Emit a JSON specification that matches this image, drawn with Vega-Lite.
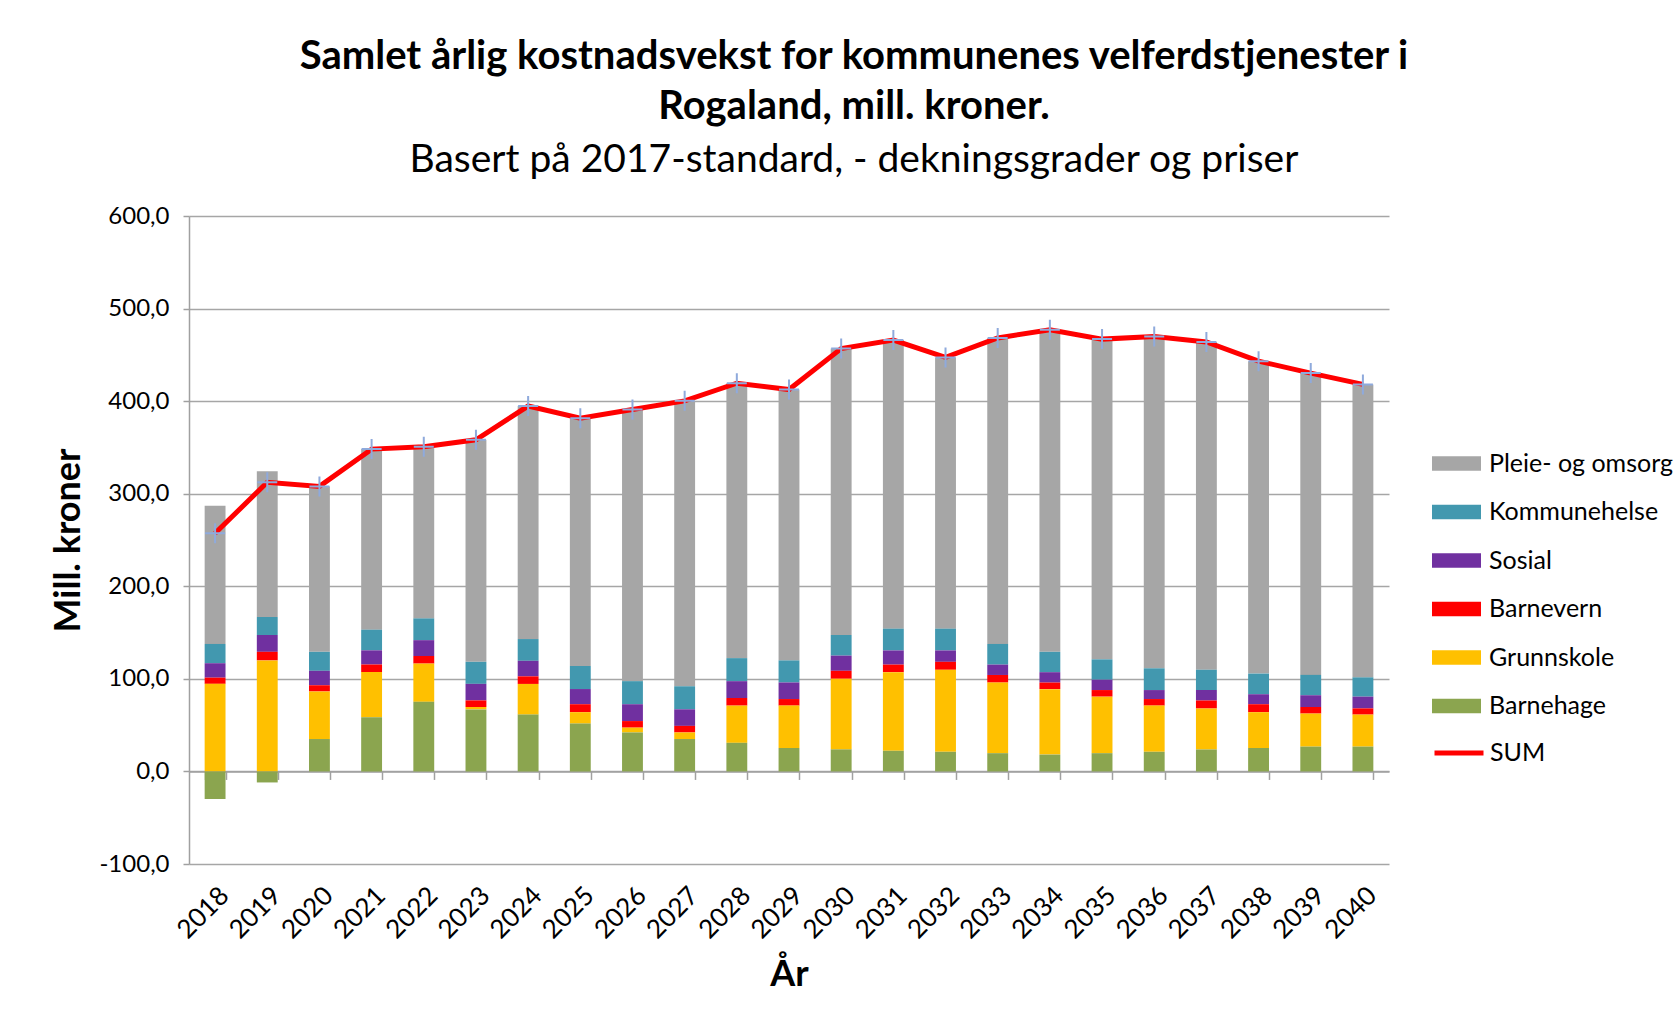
{
  "$schema": "https://vega.github.io/schema/vega-lite/v6.json",
  "width": 1200,
  "height": 648,
  "autosize": {"type": "none"},
  "padding": {"left": 189, "top": 216, "right": 289, "bottom": 159},
  "background": "white",
  "config": {
    "locale": {"number": {"decimal": ",", "thousands": " ", "grouping": [3], "currency": ["", " kr"], "minus": "-"}},
    "font": "Lato",
    "view": {"stroke": null},
    "legend": {"labelFont": "Lato", "labelFontSize": 25, "labelColor": "#000000", "labelOffset": 8, "rowPadding": 10.5, "padding": 0, "labelLimit": 400}
  },
  "title": {
    "text": ["Samlet årlig kostnadsvekst for kommunenes velferdstjenester i", "Rogaland, mill. kroner."],
    "subtitle": "Basert på 2017-standard, - dekningsgrader og priser",
    "anchor": "middle",
    "frame": "group",
    "dx": 65,
    "font": "Lato",
    "fontSize": 40,
    "fontWeight": "bold",
    "lineHeight": 50,
    "color": "#000000",
    "subtitleFont": "Lato",
    "subtitleFontSize": 39,
    "subtitleFontWeight": "normal",
    "subtitleColor": "#000000",
    "subtitlePadding": 14,
    "offset": 24
  },
  "datasets": {
    "rekkefolge": [
      {"Kategori": "Barnehage", "nr": 1},
      {"Kategori": "Grunnskole", "nr": 2},
      {"Kategori": "Barnevern", "nr": 3},
      {"Kategori": "Sosial", "nr": 4},
      {"Kategori": "Kommunehelse", "nr": 5},
      {"Kategori": "Pleie- og omsorg", "nr": 6}
    ],
    "tabell": [
      {"Aar": "2018", "Barnehage": -29.8, "Grunnskole": 94.6, "Barnevern": 6.7, "Sosial": 15.6, "Kommunehelse": 20.8, "Pleie- og omsorg": 149.3, "SUM": 257.2},
      {"Aar": "2019", "Barnehage": -11.9, "Grunnskole": 119.9, "Barnevern": 9.3, "Sosial": 18.2, "Kommunehelse": 19.4, "Pleie- og omsorg": 157.5, "SUM": 312.4},
      {"Aar": "2020", "Barnehage": 35.0, "Grunnskole": 51.4, "Barnevern": 6.7, "Sosial": 15.6, "Kommunehelse": 20.5, "Pleie- og omsorg": 178.7, "SUM": 307.9},
      {"Aar": "2021", "Barnehage": 58.5, "Grunnskole": 48.8, "Barnevern": 8.2, "Sosial": 15.3, "Kommunehelse": 22.3, "Pleie- og omsorg": 195.1, "SUM": 348.2},
      {"Aar": "2022", "Barnehage": 75.2, "Grunnskole": 41.3, "Barnevern": 8.2, "Sosial": 17.1, "Kommunehelse": 23.5, "Pleie- og omsorg": 185.4, "SUM": 350.7},
      {"Aar": "2023", "Barnehage": 67.0, "Grunnskole": 2.6, "Barnevern": 7.1, "Sosial": 17.9, "Kommunehelse": 23.8, "Pleie- og omsorg": 239.8, "SUM": 358.2},
      {"Aar": "2024", "Barnehage": 61.4, "Grunnskole": 33.1, "Barnevern": 8.2, "Sosial": 16.8, "Kommunehelse": 23.5, "Pleie- og omsorg": 251.7, "SUM": 394.7},
      {"Aar": "2025", "Barnehage": 51.7, "Grunnskole": 12.3, "Barnevern": 8.6, "Sosial": 16.4, "Kommunehelse": 24.9, "Pleie- og omsorg": 267.6, "SUM": 381.5},
      {"Aar": "2026", "Barnehage": 42.1, "Grunnskole": 5.2, "Barnevern": 7.1, "Sosial": 18.2, "Kommunehelse": 24.9, "Pleie- og omsorg": 293.4, "SUM": 390.9},
      {"Aar": "2027", "Barnehage": 35.0, "Grunnskole": 7.1, "Barnevern": 7.1, "Sosial": 17.9, "Kommunehelse": 24.9, "Pleie- og omsorg": 308.3, "SUM": 400.3},
      {"Aar": "2028", "Barnehage": 30.9, "Grunnskole": 40.2, "Barnevern": 8.2, "Sosial": 18.2, "Kommunehelse": 24.9, "Pleie- og omsorg": 297.0, "SUM": 419.4},
      {"Aar": "2029", "Barnehage": 25.3, "Grunnskole": 45.8, "Barnevern": 7.1, "Sosial": 17.9, "Kommunehelse": 23.8, "Pleie- og omsorg": 292.6, "SUM": 412.5},
      {"Aar": "2030", "Barnehage": 23.8, "Grunnskole": 76.3, "Barnevern": 8.6, "Sosial": 16.4, "Kommunehelse": 22.3, "Pleie- og omsorg": 309.4, "SUM": 456.8},
      {"Aar": "2031", "Barnehage": 22.3, "Grunnskole": 84.9, "Barnevern": 8.2, "Sosial": 15.3, "Kommunehelse": 23.5, "Pleie- og omsorg": 311.8, "SUM": 466.0},
      {"Aar": "2032", "Barnehage": 21.2, "Grunnskole": 88.6, "Barnevern": 8.6, "Sosial": 12.3, "Kommunehelse": 23.5, "Pleie- og omsorg": 293.0, "SUM": 447.2},
      {"Aar": "2033", "Barnehage": 19.7, "Grunnskole": 76.3, "Barnevern": 8.2, "Sosial": 11.2, "Kommunehelse": 22.3, "Pleie- og omsorg": 330.6, "SUM": 468.3},
      {"Aar": "2034", "Barnehage": 18.2, "Grunnskole": 70.7, "Barnevern": 7.1, "Sosial": 11.2, "Kommunehelse": 22.0, "Pleie- og omsorg": 348.0, "SUM": 477.2},
      {"Aar": "2035", "Barnehage": 19.7, "Grunnskole": 61.1, "Barnevern": 7.1, "Sosial": 11.2, "Kommunehelse": 22.0, "Pleie- og omsorg": 345.9, "SUM": 467.0},
      {"Aar": "2036", "Barnehage": 21.2, "Grunnskole": 49.9, "Barnevern": 7.1, "Sosial": 9.7, "Kommunehelse": 23.5, "Pleie- og omsorg": 358.5, "SUM": 469.9},
      {"Aar": "2037", "Barnehage": 23.8, "Grunnskole": 44.3, "Barnevern": 8.6, "Sosial": 11.2, "Kommunehelse": 22.0, "Pleie- og omsorg": 354.0, "SUM": 463.9},
      {"Aar": "2038", "Barnehage": 25.3, "Grunnskole": 38.7, "Barnevern": 8.6, "Sosial": 10.8, "Kommunehelse": 22.3, "Pleie- og omsorg": 337.5, "SUM": 443.2},
      {"Aar": "2039", "Barnehage": 26.8, "Grunnskole": 35.7, "Barnevern": 7.1, "Sosial": 12.7, "Kommunehelse": 22.0, "Pleie- og omsorg": 326.0, "SUM": 430.3},
      {"Aar": "2040", "Barnehage": 26.8, "Grunnskole": 34.6, "Barnevern": 6.7, "Sosial": 12.7, "Kommunehelse": 20.8, "Pleie- og omsorg": 316.5, "SUM": 418.1}
    ]
  },
  "data": {"name": "tabell"},
  "layer": [
    {
      "transform": [
        {"fold": ["Pleie- og omsorg", "Kommunehelse", "Sosial", "Barnevern", "Grunnskole", "Barnehage"], "as": ["Kategori", "Verdi"]},
        {"lookup": "Kategori", "from": {"data": {"name": "rekkefolge"}, "key": "Kategori", "fields": ["nr"]}}
      ],
      "mark": {"type": "bar"},
      "encoding": {
        "x": {
          "field": "Aar", "type": "ordinal",
          "scale": {"paddingInner": 0.6, "paddingOuter": 0.3},
          "axis": {
            "title": "År", "titleFont": "Lato", "titleFontSize": 36, "titleFontWeight": "bold", "titleColor": "#000000", "titlePadding": 14,
            "labelAngle": -45, "labelFont": "Lato", "labelFontSize": 26, "labelColor": "#000000", "labelPadding": 102.6,
            "offset": -92.57,
            "domain": true, "domainColor": "#a0a0a0", "domainWidth": 1.5,
            "ticks": true, "tickBand": "extent", "tickSize": 8, "tickColor": "#a0a0a0", "tickWidth": 1.5,
            "grid": false
          }
        },
        "y": {
          "field": "Verdi", "type": "quantitative",
          "scale": {"domain": [-100, 600], "nice": false, "zero": false},
          "axis": {
            "title": "Mill. kroner", "titleFont": "Lato", "titleFontSize": 36, "titleFontWeight": "bold", "titleColor": "#000000", "titlePadding": 11,
            "values": [-100, 0, 100, 200, 300, 400, 500, 600], "format": ".1f",
            "labelFont": "Lato", "labelFontSize": 24, "labelColor": "#000000", "labelPadding": 14,
            "tickSize": 6, "tickColor": "#a0a0a0", "tickWidth": 1.5,
            "domain": true, "domainColor": "#a0a0a0", "domainWidth": 1.5,
            "grid": true, "gridColor": "#a6a6a6", "gridWidth": 1.5
          }
        },
        "color": {
          "field": "Kategori", "type": "nominal",
          "sort": ["Pleie- og omsorg", "Kommunehelse", "Sosial", "Barnevern", "Grunnskole", "Barnehage"],
          "scale": {
            "domain": ["Pleie- og omsorg", "Kommunehelse", "Sosial", "Barnevern", "Grunnskole", "Barnehage"],
            "range": ["#A6A6A6", "#4298AF", "#7030A0", "#FF0000", "#FFC000", "#8BA54F"]
          },
          "legend": {
            "title": null, "orient": "none", "legendX": 1243, "legendY": 223,
            "symbolType": "M-1,-0.3H1V0.3H-1Z", "symbolSize": 2401, "symbolStrokeWidth": 0
          }
        },
        "order": {"field": "nr", "type": "quantitative", "sort": "ascending"}
      }
    },
    {
      "mark": {"type": "line", "strokeWidth": 5},
      "encoding": {
        "x": {"field": "Aar", "type": "ordinal"},
        "y": {"field": "SUM", "type": "quantitative"},
        "stroke": {
          "datum": "SUM",
          "scale": {"range": ["#FF0000"]},
          "legend": {
            "title": null, "orient": "none", "legendX": 1243, "legendY": 510,
            "symbolType": "M-1,0H1", "symbolSize": 2401, "symbolStrokeWidth": 5, "labelOffset": 4
          }
        }
      }
    },
    {
      "mark": {"type": "point", "shape": "M-1,0H1M0,-1V1", "size": 400, "filled": false, "stroke": "#8FAADC", "strokeWidth": 2, "opacity": 1},
      "encoding": {
        "x": {"field": "Aar", "type": "ordinal"},
        "y": {"field": "SUM", "type": "quantitative"}
      }
    }
  ]
}
